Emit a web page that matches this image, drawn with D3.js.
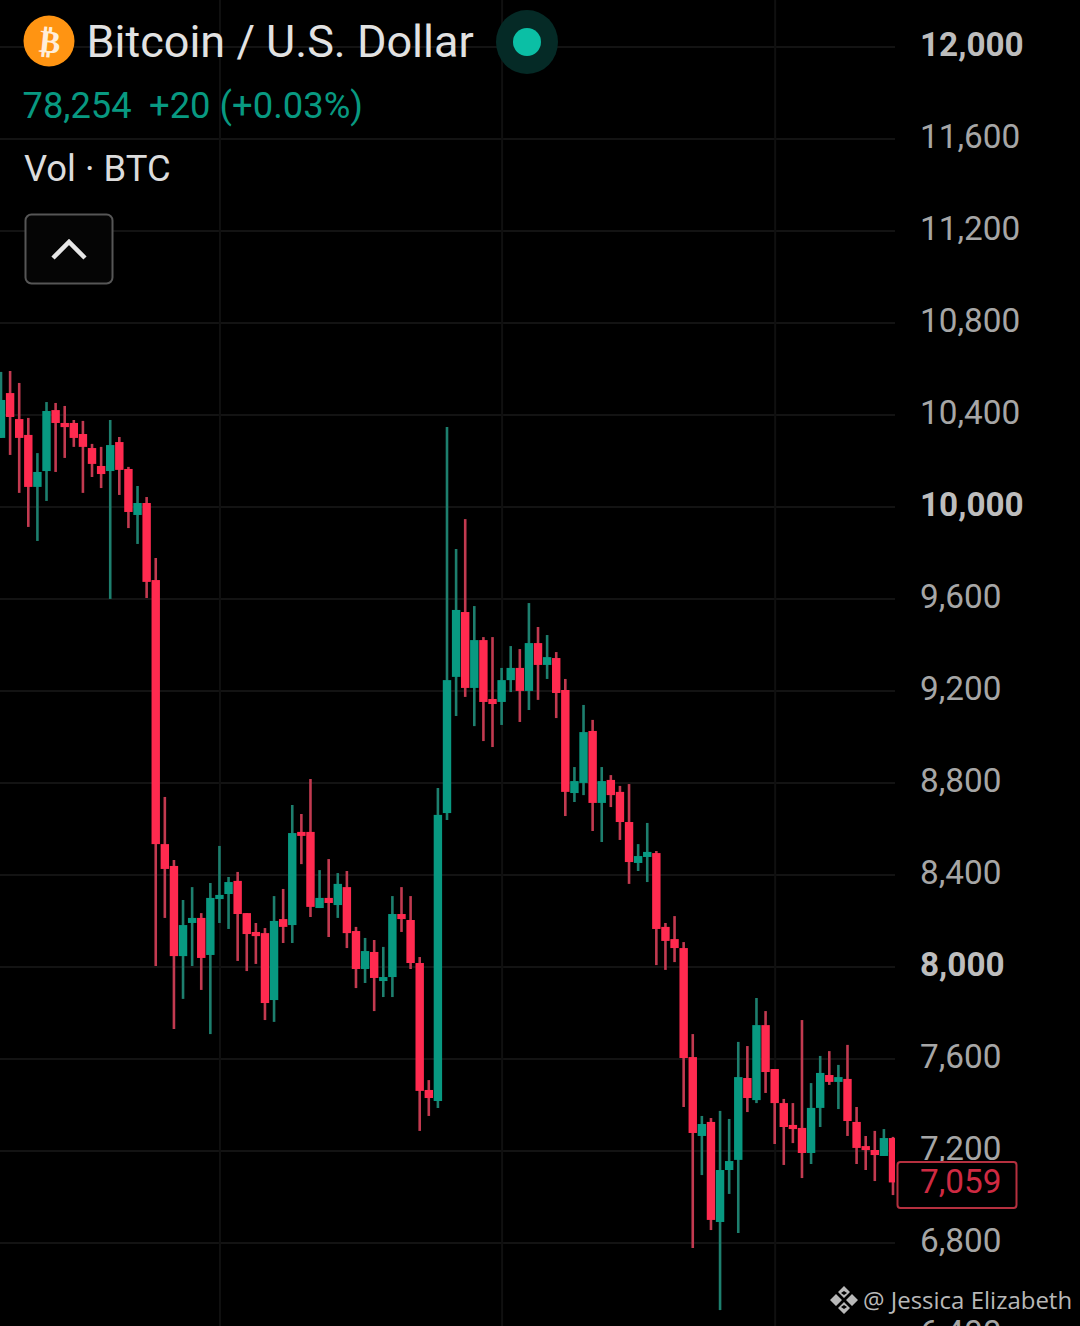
<!DOCTYPE html>
<html>
<head>
<meta charset="utf-8">
<title>Bitcoin / U.S. Dollar</title>
<script src="https://cdn.jsdelivr.net/npm/d3@7"></script>
<style>
  html, body { margin: 0; padding: 0; background: #000; overflow: hidden; }
  svg { display: block; }
  text { font-family: Roboto, sans-serif; }
</style>
</head>
<body>
<div id="chart"></div>
<script>
var opens = [10296,10491,10378,10309,10083,10152,10417,10361,10361,10313,10252,10174,10152,10278,10161,9961,10013,9678,8530,8435,8043,8187,8209,8048,8291,8313,8370,8230,8148,8143,7852,8204,
  8178,8583,8583,8252,8296,8265,8343,8152,7987,8061,7939,7952,8226,8200,8013,7461,7413,8665,9257,9539,9209,9417,9161,9148,9243,9296,9196,9404,9309,9339,9200,8752,8796,9022,8709,8809,8757,8626,
  8448,8474,8491,8170,8117,8078,7604,7261,7322,6887,7113,7157,7513,7417,7743,7552,7404,7309,7296,7187,7383,7526,7496,7509,7322,7217,7200,7174,7252];
var highs = [10583,10587,10535,10383,10230,10452,10448,10435,10374,10370,10270,10257,10374,10300,10170,10087,10039,9774,8735,8461,8287,8343,8230,8361,8522,8387,8409,8230,8187,8165,8304,8335,
  8700,8661,8813,8417,8465,8404,8413,8170,8122,8113,8083,8304,8343,8304,8039,7504,8774,10343,9813,9943,9565,9430,9430,9296,9391,9378,9578,9474,9439,9365,9248,8865,9135,9070,8865,8830,8783,8791,
  8530,8622,8500,8187,8217,8104,7704,7348,7339,7370,7335,7670,7652,7861,7804,7552,7422,7404,7765,7491,7609,7630,7570,7657,7387,7261,7283,7291,7257];
var lows = [10296,10222,10057,9909,9848,10022,10148,10209,10257,10057,10126,10078,9596,10048,9904,9835,9600,8000,8209,7726,7857,8000,7896,7704,8187,8161,8022,7978,8009,7765,7757,8100,
  8100,8443,8213,8252,8126,8209,8078,7904,7926,7804,7865,7865,8148,7987,7283,7348,7383,8635,9087,9170,9043,8978,8952,9048,9191,9061,9113,9157,9248,9078,8652,8713,8743,8587,8539,8691,8548,8357,
  8413,8365,8004,7983,8017,7387,6774,7091,6852,6504,7009,6839,7365,7404,7448,7226,7135,7230,7078,7139,7300,7483,7378,7261,7139,7113,7065,7174,7004];
var closes = [10461,10387,10296,10083,10148,10413,10361,10343,10296,10257,10183,10139,10265,10157,9974,10013,9670,8530,8422,8043,8178,8209,8035,8296,8309,8365,8226,8139,8130,7839,8196,8170,
  8578,8570,8257,8296,8274,8357,8143,7987,8065,7948,7952,8226,8204,8013,7457,7426,8657,9243,9548,9209,9417,9148,9139,9243,9296,9196,9404,9309,9343,9187,8757,8804,9017,8709,8804,8743,8626,8452,
  8478,8496,8161,8109,8078,7600,7274,7313,6896,7113,7152,7517,7426,7743,7539,7404,7300,7291,7187,7383,7535,7496,7517,7326,7209,7200,7178,7252,7059];

var axisTicks = [12000,11600,11200,10800,10400,10000,9600,9200,8800,8400,8000,7600,7200,6800,6400];
var boldTicks = [12000,10000,8000];
var timeLines = [24,55,85]; // candle index where the vertical lines sit

var lastPrice = closes[closes.length-1];
var up = '#089981', down = '#ff2a4f';

var svg = d3.select('#chart').append('svg')
  .attr('width',1080)
  .attr('height',1326)
  .style('background','#000');

var x = d3.scaleLinear().domain([0,98]).range([1,893]);
var y = d3.scaleLinear().domain([6400,12000]).range([1334,46]);

svg.append('defs').append('clipPath').attr('id','plot')
  .append('rect').attr('x',0).attr('y',0).attr('width',895).attr('height',1326);

// grid
var grid = svg.append('g').attr('class','grid');
grid.selectAll('line.h')
  .data(axisTicks)
  .enter().append('line')
  .attr('class','h')
  .attr('x1',0).attr('x2',895)
  .attr('y1',function(d){ return y(d)+1; })
  .attr('y2',function(d){ return y(d)+1; })
  .attr('stroke','#131313')
  .attr('stroke-width',2);
grid.selectAll('line.v')
  .data(timeLines)
  .enter().append('line')
  .attr('class','v')
  .attr('y1',0).attr('y2',1326)
  .attr('x1',function(d){ return x(d)+0.5; })
  .attr('x2',function(d){ return x(d)+0.5; })
  .attr('stroke','#101010')
  .attr('stroke-width',2);

// candles
var candles = svg.append('g').attr('clip-path','url(#plot)')
  .selectAll('g')
  .data(d3.range(opens.length))
  .enter().append('g');

function col(i){ return closes[i] >= opens[i] ? up : down; }

candles.append('line')
  .attr('x1',function(i){ return x(i); })
  .attr('x2',function(i){ return x(i); })
  .attr('y1',function(i){ return y(highs[i]); })
  .attr('y2',function(i){ return y(lows[i]); })
  .attr('stroke',function(i){ return closes[i] >= opens[i] ? '#1d7f6e' : '#c23a50'; })
  .attr('stroke-width',2.6);

candles.append('rect')
  .attr('x',function(i){ return x(i)-4.2; })
  .attr('width',8.4)
  .attr('y',function(i){ return y(Math.max(opens[i],closes[i])); })
  .attr('height',function(i){ return Math.max(4, Math.abs(y(opens[i])-y(closes[i]))); })
  .attr('fill',col);

// price axis
var axis = d3.axisRight(y)
  .tickValues(axisTicks)
  .tickFormat(d3.format(','))
  .tickSize(0)
  .tickPadding(0);

var axisG = svg.append('g')
  .attr('transform','translate(920,-1)')
  .call(axis);
axisG.select('.domain').remove();
axisG.selectAll('text')
  .attr('font-size',33.3)
  .style('font-family','Roboto, sans-serif')
  .attr('fill',function(d){ return boldTicks.indexOf(d) >= 0 ? '#bdbdbd' : '#a6a6a6'; })
  .attr('font-weight',function(d){ return boldTicks.indexOf(d) >= 0 ? 700 : 400; });

// last price tag
var tag = svg.append('g');
tag.append('rect')
  .attr('x',897.5).attr('width',119)
  .attr('y',y(lastPrice)-20.5).attr('height',46)
  .attr('rx',3)
  .attr('fill','#000')
  .attr('stroke','#b5303f')
  .attr('stroke-width',2);
tag.append('text')
  .attr('x',920)
  .attr('y',y(lastPrice)-1)
  .attr('dy','0.35em')
  .attr('font-size',33.3)
  .attr('fill','#cf2a42')
  .text(d3.format(',')(lastPrice));

// header
svg.append('circle').attr('cx',49).attr('cy',41).attr('r',25.5).attr('fill','#ff9412');
svg.append('text')
  .attr('x',50).attr('y',41)
  .attr('dy','0.36em')
  .attr('text-anchor','middle')
  .attr('font-size',32)
  .attr('font-weight',700)
  .style('font-family','DejaVu Sans')
  .attr('fill','#ffeeda')
  .attr('transform','rotate(6 49 41)')
  .text('₿');

svg.append('text')
  .attr('x',86.5).attr('y',57)
  .attr('font-size',45)
  .attr('fill','#e2e2e2')
  .text('Bitcoin / U.S. Dollar');

svg.append('ellipse').attr('cx',527).attr('cy',42).attr('rx',31).attr('ry',32).attr('fill','#052a26');
svg.append('circle').attr('cx',527).attr('cy',42).attr('r',14).attr('fill','#0bbfa5');

svg.append('text')
  .attr('x',22.5).attr('y',118)
  .attr('font-size',36.3)
  .attr('fill',up)
  .text('78,254');
svg.append('text')
  .attr('x',149).attr('y',118)
  .attr('font-size',36.4)
  .attr('fill',up)
  .text('+20 (+0.03%)');

svg.append('text')
  .attr('x',24).attr('y',181)
  .attr('font-size',36.4)
  .attr('fill','#dcdcdc')
  .text('Vol · BTC');

svg.append('rect')
  .attr('x',25.5).attr('y',214.5).attr('width',87).attr('height',69)
  .attr('rx',6)
  .attr('fill','#050505')
  .attr('stroke','#565656')
  .attr('stroke-width',2);
svg.append('path')
  .attr('d','M53 258L69 242L85 258')
  .attr('fill','none')
  .attr('stroke','#e6e6e6')
  .attr('stroke-width',4.5);

// watermark
var mark = svg.append('g').attr('transform','translate(844,1300)').attr('fill','#b8b8b8');
mark.append('path')
  .attr('d','M0 -14L6 -8L0 -2L-6 -8Z M-8 -6L-2 0L-8 6L-14 0Z M8 -6L14 0L8 6L2 0Z M0 2L6 8L0 14L-6 8Z')
  .attr('fill-rule','evenodd');
mark.append('path')
  .attr('d','M0 -9L3 -7L0 -5L-3 -7Z M0 5L3 7L0 9L-3 7Z')
  .attr('fill','#000');

svg.append('text')
  .attr('x',863).attr('y',1309)
  .attr('font-size',24)
  .style('font-family','"Open Sans", sans-serif')
  .attr('fill','#b8b8b8')
  .text('@ Jessica Elizabeth');
</script>
</body>
</html>
